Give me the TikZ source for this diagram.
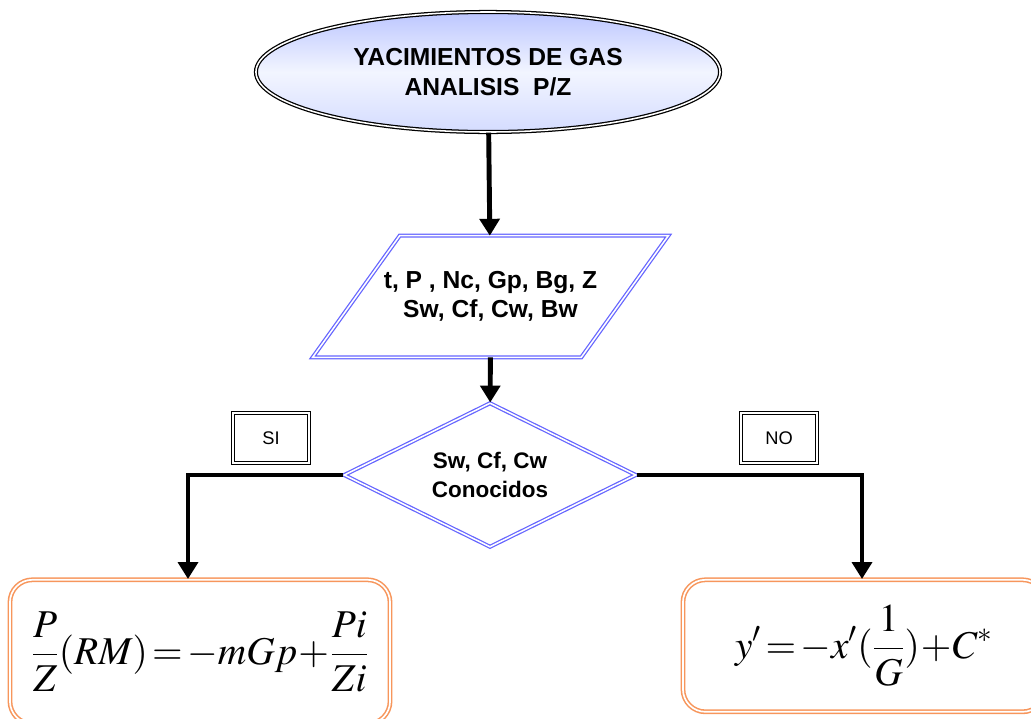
\documentclass[tikz,border=0pt]{standalone}
\usepackage{mathptmx}
\usepackage[no-math]{fontspec}
\setmainfont{Liberation Sans}
\usetikzlibrary{shapes.geometric,arrows.meta}

\begin{document}
\begin{tikzpicture}[x=0.025cm,y=-0.025cm,
  every node/.style={align=center},
  flowline/.style={line width=3.5pt},
  flowarrow/.style={flowline,-{Triangle[length=12pt,width=14pt]}},
  blueline/.style={draw=flowblue,double=white,double distance=1.1pt,line width=0.9pt},
  startbox/.style={ellipse,draw=black,double=white,double distance=1.1pt,line width=0.9pt,
    minimum width=11.6cm,minimum height=3.0cm,
    top color=ovaltop,bottom color=ovalbottom,middle color=ovalmid,
    font=\fontsize{17.5}{21}\selectfont\bfseries},
  databox/.style={rectangle,minimum width=6.7cm,minimum height=3.025cm,
    font=\fontsize{17.5}{21}\selectfont\bfseries},
  checkbox/.style={diamond,aspect=2,inner sep=0pt,blueline,
    minimum width=7.3cm,minimum height=3.6cm,
    font=\fontsize{16}{21}\selectfont\bfseries},
  tagbox/.style={rectangle,draw=black,double=white,double distance=1.3pt,line width=0.9pt,
    minimum width=1.9cm,minimum height=1.25cm,font=\fontsize{13}{15}\selectfont},
  resultbox/.style={rectangle,rounded corners=16pt,draw=flowred,double=white,double distance=1.2pt,
    line width=1.1pt,font=\fontsize{28}{30}\selectfont}
]
\definecolor{ovaltop}{RGB}{188,198,255}
\definecolor{ovalmid}{RGB}{242,245,255}
\definecolor{ovalbottom}{RGB}{212,220,255}
\definecolor{flowblue}{RGB}{102,102,255}
\definecolor{flowred}{RGB}{247,150,92}
\useasboundingbox (0,0) rectangle (1031,718);
\clip (0,0) rectangle (1031,718);
% Start
\node[startbox] (title) at (488,72) {YACIMIENTOS DE GAS\\ANALISIS\ \ P/Z};
% Input data
\node[databox] (data) at (490.5,296.5) {t, P , Nc, Gp, Bg, Z\\Sw, Cf, Cw, Bw};
\draw[blueline] ([xshift=-1.0875cm]data.south west) -- ([xshift=-1.0875cm]data.south east)
  -- ([xshift=1.0875cm]data.north east) -- ([xshift=1.0875cm]data.north west) -- cycle;
% Decision
\node[checkbox] (check) at (490,475) {Sw, Cf, Cw\\Conocidos};
\node[tagbox] (si) at (271,438) {SI};
\node[tagbox] (no) at (779,438) {NO};
% Results
\node[resultbox,minimum width=9.5cm,minimum height=3.6cm,anchor=north] (lres) at (200,579)
  {$\displaystyle \frac{P}{Z}(RM)\!=\!-mGp\!+\!\frac{Pi}{Zi}$};
\node[resultbox,minimum width=9.05cm,minimum height=3.3cm,anchor=north] (rres) at (864,579)
  {$\displaystyle y'\!=\!-x'(\frac{1}{G})\!+\!C^{*}$};
% Connectors
\coordinate (sibend) at (188,475);
\coordinate (nobend) at (862,475);
\draw[flowarrow] (title) -- (data);
\draw[flowarrow] (data) -- (check);
\draw[flowarrow] (check.west) -- (sibend) -- (sibend |- lres.north);
\draw[flowarrow] (check.east) -- (nobend) -- (nobend |- rres.north);
\end{tikzpicture}
\end{document}
